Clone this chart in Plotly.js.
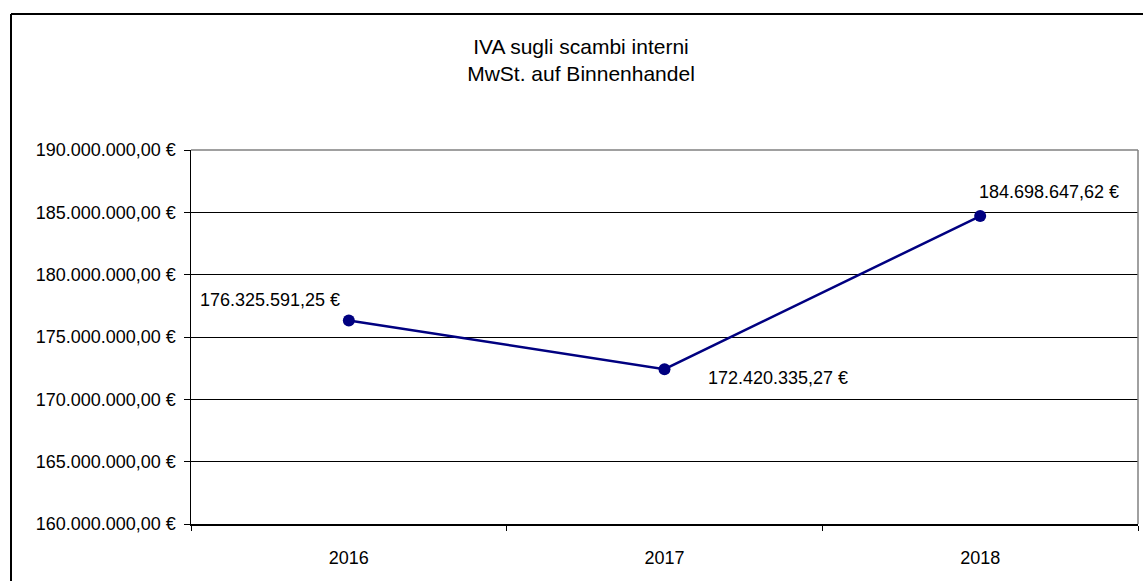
<!DOCTYPE html>
<html lang="it">
<head>
  <meta charset="UTF-8">
  <title>IVA sugli scambi interni</title>
  <script src="https://cdn.plot.ly/plotly-3.0.1.min.js"></script>
  <style>
    html, body {
      margin: 0;
      padding: 0;
      background: #ffffff;
      overflow: hidden;
    }
  </style>
</head>
<body>
  <div id="chart"></div>

  <script>
    // Data
    const years = ["2016", "2017", "2018"];
    const ivaValues = [176325591.25, 172420335.27, 184698647.62];

    // label placement around each point (px)
    const labelAnchor = ["right", "left", "left"];
    const labelShiftX = [-7, 41, -3];
    const labelShiftY = [20, -9, 24];

    const fmtEuro = (v) => {
      const parts = v.toFixed(2).split(".");
      const intPart = parts[0].replace(/\B(?=(\d{3})+(?!\d))/g, ".");
      return intPart + "," + parts[1] + " €";
    };

    const font = "Liberation Sans, Arial, sans-serif";
    const W = 1144, H = 581;
    const margin = { l: 191, r: 6, t: 150, b: 57 };
    const plotW = W - margin.l - margin.r;
    const plotH = H - margin.t - margin.b;
    // pixel -> paper coords, for the outer frame
    const px = (x) => (x - margin.l) / plotW;
    const py = (y) => (H - margin.b - y) / plotH;

    const trace = {
      x: years,
      y: ivaValues,
      type: "scatter",
      mode: "lines+markers",
      line: { color: "#000080", width: 2.5 },
      marker: { color: "#000080", size: 12 },
      hoverinfo: "skip"
    };

    // on a category axis annotations take the category index
    const annotations = years.map((yr, i) => ({
      x: i,
      y: ivaValues[i],
      xref: "x",
      yref: "y",
      text: fmtEuro(ivaValues[i]),
      showarrow: false,
      xanchor: labelAnchor[i],
      yanchor: "middle",
      xshift: labelShiftX[i],
      yshift: labelShiftY[i],
      font: { family: font, size: 18, color: "#000" }
    }));

    const layout = {
      width: W,
      height: H,
      margin: margin,
      paper_bgcolor: "#ffffff",
      plot_bgcolor: "#ffffff",
      separators: ",.",
      showlegend: false,
      font: { family: font, size: 18, color: "#000" },
      title: {
        text: "IVA sugli scambi interni<br>MwSt. auf Binnenhandel",
        font: { family: font, size: 21, color: "#000" },
        xref: "container",
        yref: "container",
        x: 581 / W,
        xanchor: "center",
        y: 1 - 54 / H,
        yanchor: "top"
      },
      xaxis: {
        type: "category",
        range: [-0.5, 2.5],
        tickson: "boundaries",
        ticks: "outside",
        ticklen: 5,
        tickcolor: "#000",
        showline: true,
        linecolor: "#000",
        linewidth: 1.5,
        showgrid: false,
        zeroline: false,
        ticklabelstandoff: 17,
        tickfont: { family: font, size: 18, color: "#000" }
      },
      yaxis: {
        range: [160000000, 190000000],
        dtick: 5000000,
        tick0: 160000000,
        tickformat: ",.2f",
        ticksuffix: " €",
        ticks: "outside",
        ticklen: 6,
        tickcolor: "#000",
        showline: true,
        linecolor: "#000",
        linewidth: 1.5,
        showgrid: true,
        gridcolor: "#000",
        gridwidth: 1,
        zeroline: false,
        ticklabelstandoff: 4,
        tickfont: { family: font, size: 18, color: "#000" }
      },
      shapes: [
        // plot area border, top and right, grey
        { type: "line", xref: "paper", yref: "paper", x0: 0, x1: 1, y0: 1, y1: 1,
          line: { color: "#808080", width: 1.5 }, layer: "above" },
        { type: "line", xref: "paper", yref: "paper", x0: 1, x1: 1, y0: 0, y1: 1,
          line: { color: "#808080", width: 1.5 }, layer: "above" },
        // outer chart frame, cut off on the right and bottom
        { type: "line", xref: "paper", yref: "paper", x0: px(11), x1: px(W - 1), y0: py(14), y1: py(14),
          line: { color: "#000", width: 2 }, layer: "above" },
        { type: "line", xref: "paper", yref: "paper", x0: px(11), x1: px(11), y0: py(14), y1: py(H),
          line: { color: "#000", width: 2 }, layer: "above" }
      ],
      annotations: annotations
    };

    Plotly.newPlot("chart", [trace], layout, { displayModeBar: false, staticPlot: true });
  </script>
</body>
</html>
